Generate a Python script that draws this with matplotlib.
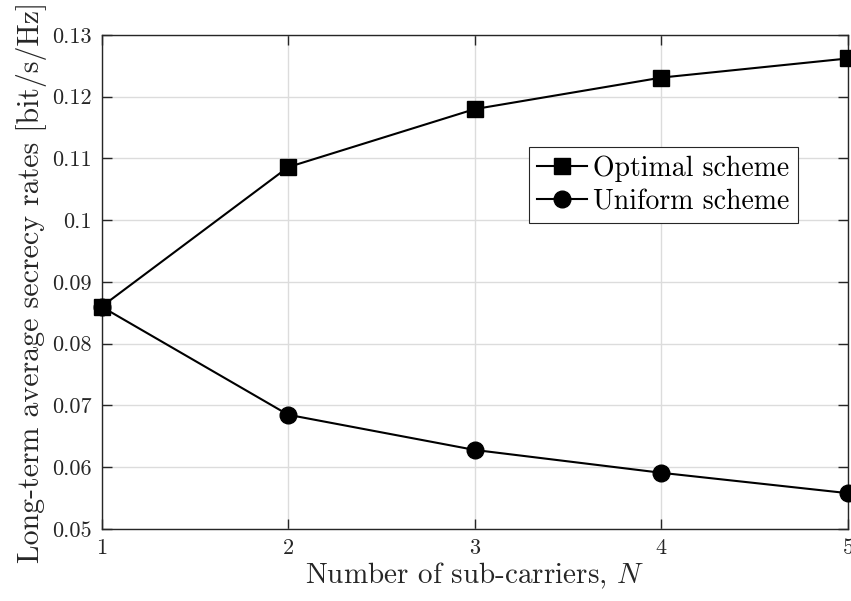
import matplotlib
matplotlib.use("Agg")
import matplotlib.pyplot as plt
from matplotlib.ticker import FuncFormatter

plt.rcParams["font.family"] = ["cmr10", "DejaVu Serif"]
plt.rcParams["mathtext.fontset"] = "cm"
plt.rcParams["axes.unicode_minus"] = False

n_subcarriers = [1, 2, 3, 4, 5]
optimal_rate = [0.0860, 0.1086, 0.1180, 0.1231, 0.1262]
uniform_rate = [0.0860, 0.0685, 0.0628, 0.0591, 0.0558]

fig = plt.figure(figsize=(8.51, 6.01), dpi=100)
ax = fig.add_axes([0.1193, 0.1198, 0.8772, 0.822])

ax.plot(n_subcarriers, optimal_rate, color="black", lw=1.5, marker="s",
        markersize=12, label="Optimal scheme", clip_on=False, zorder=3)
ax.plot(n_subcarriers, uniform_rate, color="black", lw=1.5, marker="o",
        markersize=12, label="Uniform scheme", clip_on=False, zorder=3)

ax.set_xlim(1, 5)
ax.set_ylim(0.05, 0.13)
ax.set_xticks([1, 2, 3, 4, 5])
ax.set_yticks([0.05, 0.06, 0.07, 0.08, 0.09, 0.10, 0.11, 0.12, 0.13])
ax.yaxis.set_major_formatter(FuncFormatter(lambda v, p: f"{v:g}"))

ax.grid(True, color="#dcdcdc", lw=1.0)
ax.set_axisbelow(True)
ax.tick_params(direction="in", length=7, width=1.0, top=True, right=True,
               labelsize=16, colors="#262626", pad=7)
for s in ax.spines.values():
    s.set_color("#262626")
    s.set_linewidth(1.0)

ax.set_xlabel("Number of sub-carriers, $N$", fontsize=21, color="#262626",
              labelpad=2)
ax.set_ylabel("Long-term average secrecy rates [bit/s/Hz]", fontsize=21.5,
              color="#262626", labelpad=4)

leg = ax.legend(loc="upper left", bbox_to_anchor=(0.5727, 0.7733),
                fontsize=20, frameon=True, fancybox=False, framealpha=1,
                edgecolor="#262626", borderpad=0.3, labelspacing=0.25,
                handlelength=1.8, handletextpad=0.2, borderaxespad=0)
leg.get_frame().set_linewidth(0.8)

fig.savefig("out.png", dpi=100)
